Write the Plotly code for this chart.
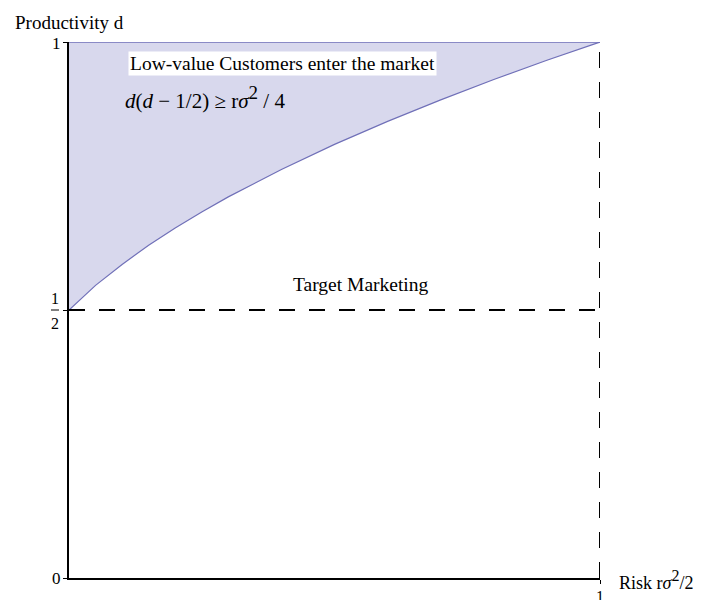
import plotly.graph_objects as go

# Data
risk = [0.0, 0.05, 0.1, 0.15, 0.2, 0.25, 0.3, 0.4, 0.5, 0.6, 0.7, 0.8, 0.9, 1.0]
productivity = [0.50, 0.546, 0.585, 0.621, 0.653, 0.683, 0.711, 0.762, 0.809, 0.852, 0.892, 0.930, 0.966, 1.0]
top_level = [1.0] * len(risk)
threshold_d = 0.5
risk_max = 1.0
y_ticks = [0, 0.5, 1]
x_ticks = [1]

FONT = "Liberation Serif"
LINE = "rgb(112,112,184)"
FILL = "rgba(190,190,225,0.6)"
DASH = "16px,14px"

fig = go.Figure()

fig.add_trace(go.Scatter(x=risk, y=top_level, mode="lines",
                         line=dict(color=LINE, width=1.5), hoverinfo="skip"))
fig.add_trace(go.Scatter(x=risk, y=productivity, mode="lines", fill="tonexty",
                         fillcolor=FILL, line=dict(color=LINE, width=1.2), hoverinfo="skip"))
fig.add_trace(go.Scatter(x=[0, risk_max], y=[threshold_d, threshold_d], mode="lines",
                         line=dict(color="black", width=2, dash=DASH), hoverinfo="skip"))
fig.add_trace(go.Scatter(x=[risk_max, risk_max], y=[0, 1], mode="lines",
                         line=dict(color="black", width=2, dash=DASH), hoverinfo="skip"))

fig.update_layout(
    width=698, height=592,
    margin=dict(l=61, r=106, t=34, b=22),
    plot_bgcolor="white", paper_bgcolor="white",
    showlegend=False,
    font=dict(family=FONT, size=16, color="black"),
)
fig.update_xaxes(range=[0, 1], showgrid=False, zeroline=False, showline=True,
                 linecolor="black", linewidth=1.5, ticks="outside", ticklen=4,
                 tickvals=x_ticks, showticklabels=False, tickcolor="black")
fig.update_yaxes(range=[0, 1], showgrid=False, zeroline=False, showline=True,
                 linecolor="black", linewidth=1.5, ticks="outside", ticklen=4,
                 tickvals=y_ticks, showticklabels=False, tickcolor="black")

# tick labels
fig.add_annotation(x=0, y=y_ticks[0], text="0", showarrow=False, xanchor="right",
                   xshift=-6, font=dict(size=17))
fig.add_annotation(x=0, y=y_ticks[2], text="1", showarrow=False, xanchor="right",
                   xshift=-6, yshift=-1, font=dict(size=17))
fig.add_annotation(x=0, y=y_ticks[1], text="1", showarrow=False, xanchor="center",
                   xshift=-14, yshift=12, font=dict(size=16))
fig.add_annotation(x=0, y=y_ticks[1], text="2", showarrow=False, xanchor="center",
                   xshift=-14, yshift=-13, font=dict(size=16))
fig.add_shape(type="line", xref="paper", yref="paper", xsizemode="pixel", xanchor=0,
              x0=-18, x1=-10, y0=y_ticks[1], y1=y_ticks[1],
              line=dict(color="black", width=1))
fig.add_annotation(x=x_ticks[0], y=0, text="1", showarrow=False, yanchor="top",
                   yshift=-8, font=dict(size=16))

# axis titles
fig.add_annotation(xref="paper", yref="paper", x=0, y=1, xshift=-56, yshift=20,
                   text="Productivity d", showarrow=False, xanchor="left",
                   yanchor="middle", font=dict(size=19))
fig.add_annotation(x=risk_max, y=0, xshift=17, yshift=-2,
                   text="Risk r<i>σ</i><sup><span style='font-size:16px'>2</span></sup>/2",
                   showarrow=False, xanchor="left", yanchor="middle", font=dict(size=18))

# region labels
fig.add_annotation(x=0.111, y=0.959, text="Low-value Customers enter the market",
                   showarrow=False, xanchor="left", bgcolor="white", borderpad=1,
                   font=dict(size=19.5))
fig.add_annotation(x=0.102, y=0.897,
                   text="<i>d</i>(<i>d</i> − 1/2) ≥ r<i>σ</i><sup><span style='font-size:19px'>2</span></sup> / 4",
                   showarrow=False, xanchor="left", font=dict(size=21))
fig.add_annotation(x=0.549, y=0.547, text="Target Marketing", showarrow=False,
                   xanchor="center", font=dict(size=19.5))

fig.write_html("out.html")
